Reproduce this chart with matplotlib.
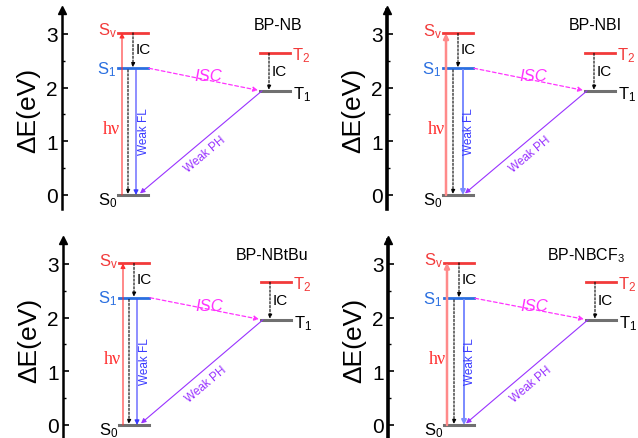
import matplotlib
matplotlib.use('Agg')
import matplotlib.pyplot as plt

plt.rcParams['font.family'] = ['Liberation Sans', 'DejaVu Sans']
plt.rcParams['mathtext.default'] = 'regular'

# panel names and energy levels (eV)
names = ['BP-NB', 'BP-NBI', 'BP-NBtBu', 'BP-NBCF$_3$']
E_Sv = [3.02, 3.01, 3.01, 3.02]
E_S1 = [2.36, 2.36, 2.37, 2.36]
E_T2 = [2.64, 2.64, 2.66, 2.66]
E_T1 = [1.94, 1.94, 1.96, 1.96]
E_S0 = [0.0, 0.0, 0.0, 0.0]

# axes placement in figure pixels: (spine x, y of 0 eV), title right edge
W, H = 638, 439
pos = [(62, 196), (387, 196), (63, 426), (388, 426)]
title_x = [240, 235, 245, 237]
px_per_eV = 53.7
ymin, ymax = -0.27, 3.45

fig = plt.figure(figsize=(W / 100, H / 100), dpi=100)

def arrow(ax, x0, y0, x1, y1, color, ls='-', lw=0.8, ms=7):
    ax.annotate('', xy=(x1, y1), xytext=(x0, y0),
                arrowprops=dict(arrowstyle='-|>', color=color, lw=lw, ls=ls,
                                mutation_scale=ms, shrinkA=0, shrinkB=0))

for i in range(4):
    sx, y0 = pos[i]
    right = i % 2 == 1
    bottom_px = y0 + (-ymin) * px_per_eV
    height_px = (ymax - ymin) * px_per_eV
    ax = fig.add_axes([sx / W, (H - bottom_px) / H, 250 / W, height_px / H])
    ax.set_xlim(0, 250)
    ax.set_ylim(ymin, ymax)
    for s in ['top', 'right', 'bottom']:
        ax.spines[s].set_visible(False)
    spw = 2.6 if right else 1.8
    ax.spines['left'].set_linewidth(spw)
    ax.set_xticks([])
    ax.set_yticks([0, 1, 2, 3])
    ax.set_yticks([0.5, 1.5, 2.5], minor=True)
    ax.tick_params(axis='y', which='major', direction='in', length=4, width=1.2,
                   labelsize=15, pad=3)
    ax.tick_params(axis='y', which='minor', direction='in', length=2.5, width=1)
    ax.set_ylabel('ΔE(eV)', fontsize=19, labelpad=4)
    ax.plot(0, 1, marker='^', color='k', ms=6, transform=ax.transAxes, clip_on=False)

    sv, s1, t2, t1, s0 = E_Sv[i], E_S1[i], E_T2[i], E_T1[i], E_S0[i]
    xs0, xs1 = 56, 86
    xt0, xt1 = 198, 228

    # levels
    ax.plot([xs0, xs1], [sv, sv], color='#f23a3a', lw=2)
    ax.plot([xs0, xs1], [s1, s1], color='#2a6fe0', lw=2)
    ax.plot([xs0, xs1], [s0, s0], color='#707070', lw=2.2)
    ax.plot([xt0, xt1], [t2, t2], color='#f23a3a', lw=2)
    ax.plot([xt0, xt1], [t1, t1], color='#707070', lw=2.2)

    # transitions
    if right:
        arrow(ax, 59, s0, 59, sv, '#ff8a8a', lw=1.8)
        arrow(ax, 76, s1 - 0.03, 76, s0, '#7a8aff', lw=1.4)
    else:
        arrow(ax, 60, s0, 60, sv, '#ff3030', lw=0.8)
        arrow(ax, 74, s1 - 0.03, 74, s0, '#3a3aff', lw=0.8)
    arrow(ax, 71, sv, 71, s1 + 0.02, 'k', ls=(0, (2, 1.5)), lw=0.8, ms=6)
    arrow(ax, 66, s1 - 0.03, 66, s0 + 0.02, 'k', ls=(0, (2, 1.5)), lw=0.8, ms=6)
    arrow(ax, 207, t2, 207, t1 + 0.02, 'k', ls=(0, (2, 1.5)), lw=0.8, ms=6)
    arrow(ax, xs1 + 1, s1, xt0 - 2, t1 + 0.01, '#ff33ff', ls=(0, (3, 2)), lw=0.9)
    arrow(ax, xt0 + 2, t1, 78, s0 + 0.03, '#9933ff', lw=0.8)

    # level labels
    ax.text(55, sv + 0.05, 'S$_v$', color='#f23a3a', fontsize=12, ha='right', va='center')
    ax.text(54, s1, 'S$_1$', color='#2a6fe0', fontsize=12, ha='right', va='center')
    ax.text(55, s0 - 0.08, 'S$_0$', color='k', fontsize=12, ha='right', va='center')
    ax.text(230, t2 - 0.02, 'T$_2$', color='#f23a3a', fontsize=12, ha='left', va='center')
    ax.text(231, t1 - 0.05, 'T$_1$', color='k', fontsize=12, ha='left', va='center')

    # process labels
    ax.text(74, (sv + s1) / 2 + 0.03, 'IC', fontsize=11, ha='left', va='center')
    ax.text(210, (t2 + t1) / 2 + 0.02, 'IC', fontsize=11, ha='left', va='center')
    ax.text(146, 2.22, 'ISC', color='#ff33ff', fontsize=12, style='italic',
            ha='center', va='center')
    ax.text(49, 1.23, 'hν', color='#ff3030', fontsize=13, family='Liberation Serif',
            ha='center', va='center')
    ax.text(82, 1.19, 'Weak FL', color='#3a3aff', fontsize=8.5, rotation=90,
            ha='center', va='center')
    ax.text(143, 0.76, 'Weak PH', color='#9933ff', fontsize=8.5, rotation=40,
            ha='center', va='center', rotation_mode='anchor')
    ax.text(title_x[i], 3.18, names[i], fontsize=11.5, ha='right', va='center')

fig.savefig('out.png', dpi=100)
